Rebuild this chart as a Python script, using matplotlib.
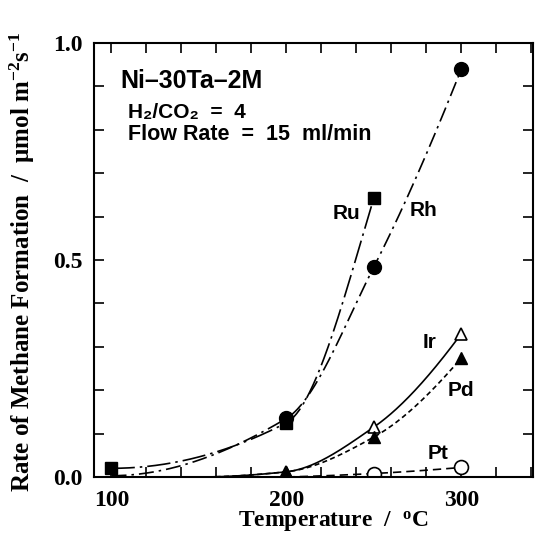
import numpy as np
import matplotlib
matplotlib.use('Agg')
import matplotlib.pyplot as plt

plt.rcParams['mathtext.fontset'] = 'custom'
plt.rcParams['mathtext.rm'] = 'Liberation Serif:bold'
plt.rcParams['mathtext.it'] = 'Liberation Serif:bold'
plt.rcParams['mathtext.bf'] = 'Liberation Serif:bold'

# data (temperature in C, rate in umol m-2 s-1)
t_ru = [100, 200, 250]
ru = [0.02, 0.125, 0.643]
t_rh = [100, 200, 250, 300]
rh = [0.003, 0.135, 0.484, 0.94]
t_ir = [150, 200, 250, 300]
ir = [0.0, 0.012, 0.115, 0.33]
t_pd = [150, 200, 250, 300]
pd_ = [0.0, 0.012, 0.092, 0.274]
t_pt = [200, 250, 300]
pt = [0.0, 0.008, 0.022]


def smooth(x, y, n=300):
    # monotone cubic (pchip) curve through the points
    x = np.asarray(x, float)
    y = np.asarray(y, float)
    h = np.diff(x)
    d = np.diff(y) / h
    m = np.zeros_like(y)
    for k in range(1, len(x) - 1):
        if d[k-1] * d[k] > 0:
            w1 = 2*h[k] + h[k-1]
            w2 = h[k] + 2*h[k-1]
            m[k] = (w1 + w2) / (w1/d[k-1] + w2/d[k])
    if len(x) > 2:
        m0 = ((2*h[0] + h[1])*d[0] - h[0]*d[1]) / (h[0] + h[1])
        m1 = ((2*h[-1] + h[-2])*d[-1] - h[-1]*d[-2]) / (h[-1] + h[-2])
        m[0] = m0 if m0*d[0] > 0 else 0
        m[-1] = m1 if m1*d[-1] > 0 else 0
    else:
        m[:] = d[0]
    xs = np.linspace(x[0], x[-1], n)
    i = np.clip(np.searchsorted(x, xs) - 1, 0, len(h) - 1)
    t = (xs - x[i]) / h[i]
    ys = ((2*t**3 - 3*t**2 + 1)*y[i] + (t**3 - 2*t**2 + t)*h[i]*m[i]
          + (-2*t**3 + 3*t**2)*y[i+1] + (t**3 - t**2)*h[i]*m[i+1])
    return xs, ys


fig = plt.figure(figsize=(5.47, 5.37), dpi=100)
ax = fig.add_axes([94/547, 1 - 477/537, (533 - 94)/547, (477 - 43)/537])

lw = 1.2
xs, ys = smooth(t_rh, rh)
ax.plot(xs, ys, color='k', lw=lw, ls=(0, (9, 3, 1.5, 3)))
ax.plot(t_rh[1:], rh[1:], 'o', color='k', ms=10)

xs, ys = smooth(t_ru, ru)
ax.plot(xs, ys, color='k', lw=lw, ls=(0, (14, 3, 1.5, 3)))
ax.plot(t_ru, ru, 's', color='k', ms=8)

xs, ys = smooth(t_ir, ir)
ax.plot(xs, ys, color='k', lw=lw, ls='-')
ax.plot(t_ir[1:], ir[1:], '^', color='k', mfc='white', mew=1.2, ms=9)

xs, ys = smooth(t_pd, pd_)
ax.plot(xs, ys, color='k', lw=lw, ls=(0, (3, 2)))
ax.plot(t_pd[1:], pd_[1:], '^', color='k', ms=9)

xs, ys = smooth(t_pt, pt)
ax.plot(xs, ys, color='k', lw=lw, ls=(0, (5, 3)))
ax.plot(t_pt[1:], pt[1:], 'o', color='k', mfc='white', mew=1.2, ms=10)

ax.set_xlim(90, 341)
ax.set_ylim(0, 1.0)
ax.set_xticks([100, 200, 300])
ax.set_xticks(np.arange(100, 341, 20), minor=True)
ax.set_yticks([0, 0.5, 1.0])
ax.set_yticklabels(['0.0', '0.5', '1.0'])
ax.set_yticks(np.arange(0, 1.01, 0.1), minor=True)
ax.tick_params(which='both', direction='in', top=True, right=True,
               length=7, width=1.2)
ax.tick_params(axis='x', pad=9)
ax.tick_params(axis='y', pad=8)
for lab in ax.get_xticklabels() + ax.get_yticklabels():
    lab.set_fontfamily('Liberation Serif')
    lab.set_fontweight('bold')
    lab.set_fontsize(17)
for s in ax.spines.values():
    s.set_linewidth(1.5)

sans = ['Liberation Sans', 'DejaVu Sans']
ax.text(104.9, 0.912, 'Ni\u201330Ta\u20132M', family=sans, weight='bold',
        fontsize=18, va='center')
ax.text(109.4, 0.841, 'H\u2082/CO\u2082  =  4', family=sans, weight='bold',
        fontsize=15, va='center')
ax.text(109.4, 0.79, 'Flow Rate  =  15  ml/min', family=sans, weight='bold',
        fontsize=15.5, va='center')
labels = ['Ru', 'Rh', 'Ir', 'Pd', 'Pt']
lx = [226.6, 270.7, 278.0, 292.4, 281.0]
ly = [0.608, 0.615, 0.309, 0.20, 0.055]
for s, x, y in zip(labels, lx, ly):
    ax.text(x, y, s, family=sans, weight='bold', fontsize=15, va='center')

fig.text(333/547, 1 - 522/537, r'Temperature  /  $^{\mathrm{o}}$C',
         family='Liberation Serif', weight='bold', fontsize=17,
         ha='center', va='center')
fig.text(22/547, 1 - 262/537,
         r'Rate of Methane Formation  /  $\mathrm{\mu}$mol m$^{-2}$s$^{-1}$',
         family='Liberation Serif', weight='bold', fontsize=18,
         ha='center', va='center', rotation=90)

fig.savefig('out.png', dpi=100)
